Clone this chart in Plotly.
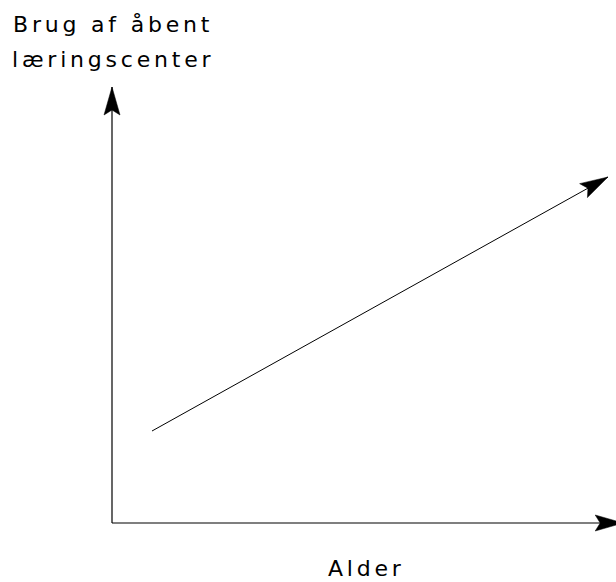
import plotly.graph_objects as go

# Conceptual chart: usage of open learning centre rises with age (no scale)
trend_age = [1.0, 12.4]          # "Alder" (arbitrary units)
trend_usage = [2.3, 8.65]        # "Brug af åbent læringscenter" (arbitrary units)
x_axis_end = 12.78
y_axis_end = 10.9
x_title = "Alder"
y_title_lines = ["Brug af åbent", "læringscenter"]

W, H = 616, 582
x_range = [-2.8, 12.6]
y_range = [-1.475, 13.075]
sx = W / (x_range[1] - x_range[0])
sy = H / (y_range[1] - y_range[0])

def to_px(x, y):
    return ((x - x_range[0]) * sx, (y - y_range[0]) * sy)

def to_data(px, py):
    return (px / sx + x_range[0], py / sy + y_range[0])

def head(x0, y0, x1, y1, L=28.0, Wd=8.0, notch=5.0):
    p0 = to_px(x0, y0); p1 = to_px(x1, y1)
    dx, dy = p1[0] - p0[0], p1[1] - p0[1]
    n = (dx * dx + dy * dy) ** 0.5
    ux, uy = dx / n, dy / n
    nx, ny = -uy, ux
    pts = [
        (p1[0], p1[1]),
        (p1[0] - L * ux + Wd * nx, p1[1] - L * uy + Wd * ny),
        (p1[0] - (L - notch) * ux, p1[1] - (L - notch) * uy),
        (p1[0] - L * ux - Wd * nx, p1[1] - L * uy - Wd * ny),
        (p1[0], p1[1]),
    ]
    d = [to_data(*p) for p in pts]
    return [a for a, _ in d], [b for _, b in d]

fig = go.Figure()
line_style = dict(color="black", width=1.2)

# axes
fig.add_trace(go.Scatter(x=[0, 0], y=[0, y_axis_end], mode="lines", line=line_style,
                         hoverinfo="skip", showlegend=False))
fig.add_trace(go.Scatter(x=[0, x_axis_end], y=[0, 0], mode="lines", line=line_style,
                         hoverinfo="skip", showlegend=False))
# trend
fig.add_trace(go.Scatter(x=trend_age, y=trend_usage, mode="lines", line=dict(color="black", width=1),
                         hoverinfo="skip", showlegend=False))

for (xa, ya, xb, yb) in [(0, 0, 0, y_axis_end), (0, 0, x_axis_end, 0),
                         (trend_age[0], trend_usage[0], trend_age[1], trend_usage[1])]:
    hx, hy = head(xa, ya, xb, yb)
    fig.add_trace(go.Scatter(x=hx, y=hy, mode="lines", fill="toself", fillcolor="black",
                             line=dict(color="black", width=0.5), hoverinfo="skip",
                             showlegend=False))

font = dict(family="DejaVu Sans, sans-serif", size=22, color="black")
def spaced(t):
    return '<span style="letter-spacing:3.8px">' + t + '</span>'

fig.add_annotation(x=11 / W, y=1 - 10 / H, xref="paper", yref="paper", xanchor="left",
                   yanchor="top", text=spaced(y_title_lines[0]), showarrow=False, font=font)
fig.add_annotation(x=10 / W, y=1 - 45 / H, xref="paper", yref="paper", xanchor="left",
                   yanchor="top", text=spaced(y_title_lines[1]), showarrow=False, font=font)
fig.add_annotation(x=327 / W, y=0, xref="paper", yref="paper", xanchor="left",
                   yanchor="bottom", text=spaced(x_title), showarrow=False, font=font,
                   borderpad=0)

fig.update_layout(
    width=W, height=H, margin=dict(l=0, r=0, t=0, b=0),
    paper_bgcolor="white", plot_bgcolor="white",
    xaxis=dict(range=x_range, visible=False, fixedrange=True),
    yaxis=dict(range=y_range, visible=False, fixedrange=True),
)
fig.write_html("out.html", post_script="document.body.style.margin='0';",
               config={"displayModeBar": False})
